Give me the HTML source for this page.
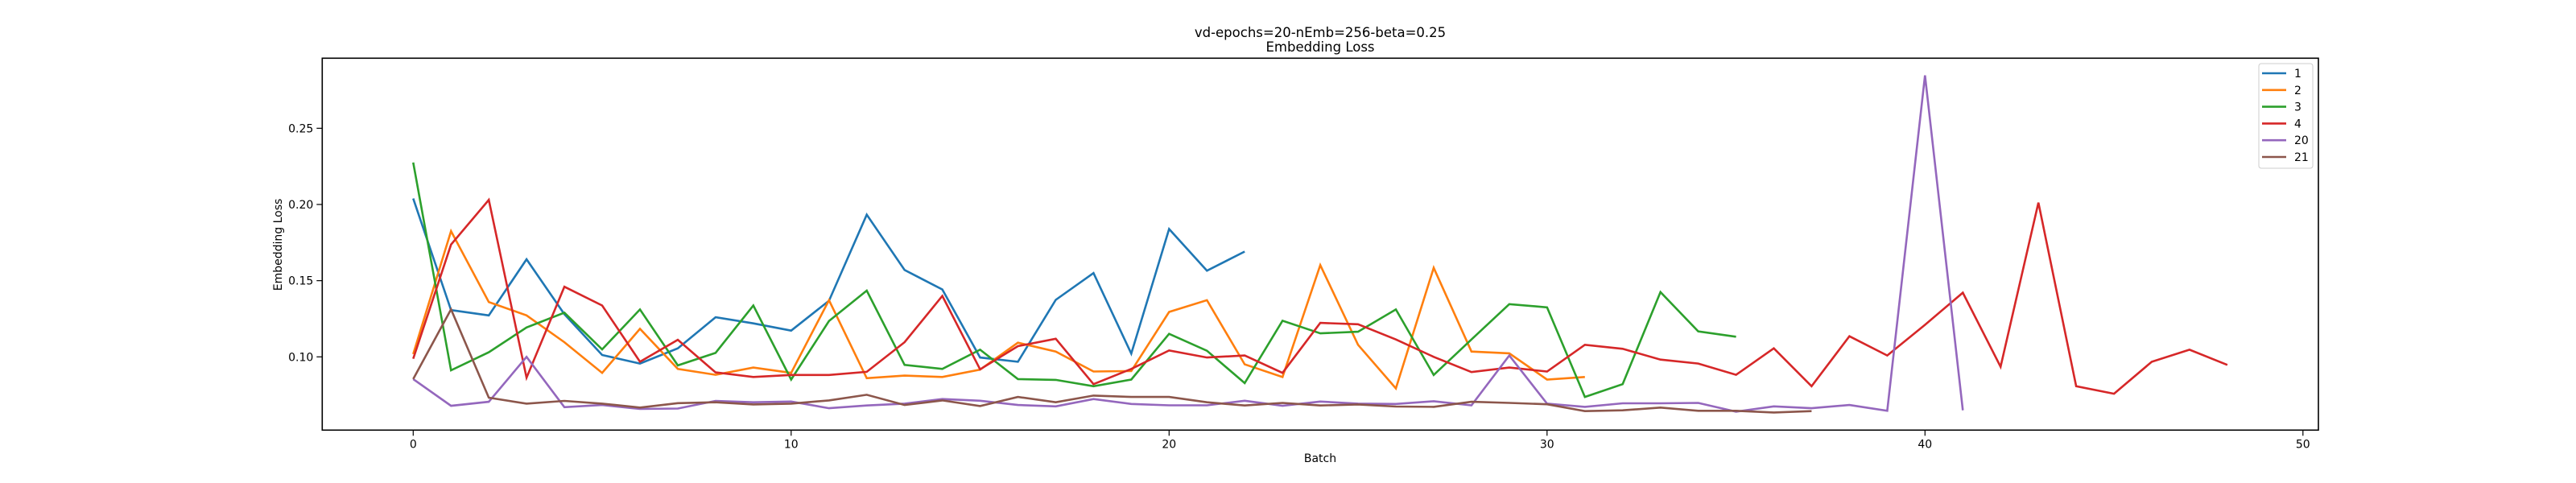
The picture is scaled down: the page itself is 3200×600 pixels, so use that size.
<!DOCTYPE html>
<html><head><meta charset="utf-8"><style>
html,body{margin:0;padding:0;background:#fff;}
svg{display:block;font-family:"DejaVu Sans","Liberation Sans",sans-serif;}
</style></head><body>
<svg id="chart" width="3200" height="600" viewBox="0 0 3200 600" xmlns="http://www.w3.org/2000/svg">
<rect width="3200" height="600" fill="#fff"/>
<text x="1640" y="46" text-anchor="middle" font-size="16.5" fill="#000">vd-epochs=20-nEmb=256-beta=0.25</text>
<text x="1640" y="64" text-anchor="middle" font-size="16.5" fill="#000">Embedding Loss</text>
<g id="plot"></g>
<text x="1640" y="574" text-anchor="middle" font-size="14" fill="#000">Batch</text>
<text transform="translate(350,304) rotate(-90)" text-anchor="middle" font-size="14" fill="#000">Embedding Loss</text>
</svg>
<script>
const seriesNames = ["1","2","3","4","20","21"];
const seriesColors = ["#1f77b4","#ff7f0e","#2ca02c","#d62728","#9467bd","#8c564b"];
const s1 = [0.2039,0.1307,0.1272,0.164,0.128,0.1012,0.0956,0.1056,0.126,0.122,0.1172,0.1368,0.1933,0.157,0.1442,0.0996,0.0968,0.1374,0.155,0.1021,0.1839,0.1565,0.1691];
const s2 = [0.1018,0.1825,0.136,0.1272,0.1096,0.0895,0.1184,0.0921,0.0882,0.093,0.0895,0.1372,0.086,0.0877,0.0868,0.0916,0.1093,0.1035,0.0904,0.0907,0.1295,0.1372,0.0951,0.0868,0.1602,0.1079,0.0793,0.1584,0.1035,0.1023,0.0851,0.0868];
const s3 = [0.2275,0.0912,0.103,0.1193,0.129,0.1049,0.1311,0.0944,0.1026,0.1337,0.0851,0.1235,0.1435,0.0947,0.0921,0.1047,0.0854,0.0849,0.0807,0.0851,0.1151,0.104,0.0828,0.1237,0.1154,0.1165,0.1311,0.0881,0.1114,0.1346,0.1325,0.0737,0.0821,0.1425,0.1167,0.1132];
const s4 = [0.0988,0.1737,0.203,0.0863,0.146,0.1337,0.0968,0.1112,0.0898,0.0868,0.0881,0.0881,0.0902,0.1096,0.14,0.0918,0.107,0.1119,0.0821,0.0921,0.1042,0.0996,0.1009,0.0895,0.1223,0.1214,0.1114,0.1,0.09,0.093,0.0904,0.1079,0.1053,0.0982,0.0956,0.0882,0.1056,0.0807,0.1135,0.1009,0.121,0.1421,0.0935,0.2012,0.0807,0.0758,0.0968,0.1047,0.0947];
const s20 = [0.0854,0.0679,0.0705,0.1,0.067,0.0684,0.0658,0.0661,0.0711,0.0702,0.0707,0.0663,0.0681,0.0693,0.0723,0.0712,0.0684,0.0675,0.0723,0.0691,0.0682,0.0682,0.0712,0.0679,0.0707,0.0693,0.0691,0.0709,0.0682,0.1009,0.0693,0.0672,0.0695,0.0695,0.0698,0.064,0.0675,0.0663,0.0684,0.0646,0.2847,0.0649];
const s21 = [0.0854,0.1312,0.0732,0.0693,0.0711,0.0693,0.0667,0.0696,0.0702,0.0688,0.0693,0.0714,0.0751,0.0684,0.0714,0.0677,0.0737,0.0702,0.0746,0.0737,0.0737,0.0702,0.0681,0.0698,0.0681,0.0688,0.0674,0.0672,0.0705,0.0698,0.0689,0.0644,0.0649,0.0667,0.0646,0.0646,0.0635,0.0644];
const xTicks = [0,10,20,30,40,50];
const yTicks = [0.10,0.15,0.20,0.25];
const yTickLabels = ["0.10","0.15","0.20","0.25"];

const allSeries = [s1,s2,s3,s4,s20,s21];
const L=400.3,R=2880,T=72.3,B=534.3;
function xs(v){return 513.3+v*46.95;}
function ys(v){return 443.3-(v-0.10)*1893;}
const NS="http://www.w3.org/2000/svg";
const g=document.getElementById('plot');
function mk(tag,attrs){const e=document.createElementNS(NS,tag);for(const k in attrs)e.setAttribute(k,attrs[k]);return e;}

allSeries.forEach((s,i)=>{
  const p=mk('polyline',{points:s.map((v,j)=>xs(j).toFixed(1)+','+ys(v).toFixed(1)).join(' '),fill:'none',stroke:seriesColors[i],'stroke-width':'2.6','stroke-linejoin':'miter'});
  
  
  g.appendChild(p);
});
const frame=mk('rect',{x:L,y:T,width:R-L,height:B-T,fill:'none',stroke:'#000','stroke-width':'1.6'});


g.appendChild(frame);
xTicks.forEach(t=>{
  const ln=mk('line',{x1:xs(t),x2:xs(t),y1:B,y2:B+7,stroke:'#000','stroke-width':'1.2'});
  
  
  g.appendChild(ln);
  const tx=mk('text',{x:xs(t),y:B+22,'text-anchor':'middle','font-size':'14',fill:'#000'});
  tx.textContent=String(t);
  
  
  g.appendChild(tx);
});
yTicks.forEach((t,i)=>{
  const ln=mk('line',{x1:L-7,x2:L,y1:ys(t),y2:ys(t),stroke:'#000','stroke-width':'1.2'});
  
  
  g.appendChild(ln);
  const tx=mk('text',{x:L-11,y:ys(t)+5,'text-anchor':'end','font-size':'14',fill:'#000'});
  tx.textContent=yTickLabels[i];
  
  
  g.appendChild(tx);
});
const lg=mk('g',{});


g.appendChild(lg);
const box=mk('rect',{x:2806,y:79,width:67,height:130,rx:3,fill:'#fff','fill-opacity':'0.8',stroke:'#ccc','stroke-width':'1'});


lg.appendChild(box);
seriesNames.forEach((n,i)=>{
  const y=91+i*20.8;
  const ln=mk('line',{x1:2810,x2:2840,y1:y,y2:y,stroke:seriesColors[i],'stroke-width':'2.6'});
  
  
  lg.appendChild(ln);
  const tx=mk('text',{x:2850,y:y+5,'font-size':'14',fill:'#000'});
  tx.textContent=n;
  
  
  lg.appendChild(tx);
});
</script>
</body></html>
